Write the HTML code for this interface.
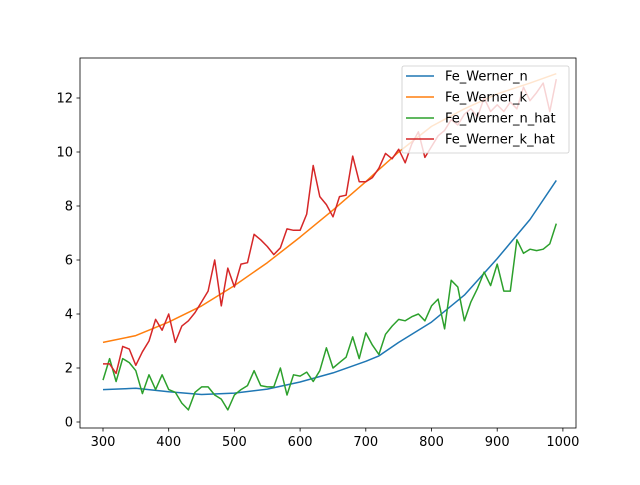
<!DOCTYPE html>
<html><head><meta charset="utf-8"><style>
body{margin:0;background:#fff}
svg{font-family:"DejaVu Sans","Liberation Sans",sans-serif}
</style></head><body>
<svg id="chart" width="640" height="480">
<rect width="640" height="480" fill="#fff"/>
<g id="marks"></g>
<rect x="80" y="58" width="496" height="370" fill="none" stroke="#000" stroke-width="0.8"/>
<g id="axes"></g>
<g id="legend"></g>
</svg>
<script>
const xSmooth=[300,350,400,450,500,550,600,650,700,720,750,800,850,900,950,990];
const nVals=[1.2,1.25,1.12,1.02,1.07,1.22,1.48,1.82,2.25,2.45,2.95,3.7,4.7,6.05,7.5,8.95];
const kVals=[2.95,3.2,3.7,4.3,5.05,5.9,6.85,7.85,8.9,9.35,10.0,10.95,11.6,12.15,12.55,12.9];
const xHat=[];for(let v=300;v<=990;v+=10)xHat.push(v);
const nHat=[1.55,2.35,1.5,2.35,2.2,1.9,1.05,1.75,1.2,1.75,1.2,1.1,0.7,0.45,1.1,1.3,1.3,1.0,0.85,0.45,1.0,1.2,1.35,1.9,1.35,1.3,1.3,2.0,1.0,1.75,1.7,1.85,1.5,1.9,2.75,2.0,2.2,2.4,3.15,2.35,3.3,2.85,2.5,3.25,3.55,3.8,3.75,3.9,4.0,3.75,4.3,4.55,3.45,5.25,5.0,3.75,4.45,4.95,5.55,5.05,5.85,4.85,4.85,6.75,6.25,6.4,6.35,6.4,6.6,7.35];
const kHat=[2.15,2.15,1.8,2.8,2.7,2.1,2.6,3.0,3.8,3.4,4.0,2.95,3.55,3.75,4.05,4.45,4.85,6.0,4.3,5.7,5.0,5.85,5.9,6.95,6.75,6.5,6.2,6.45,7.15,7.1,7.1,7.7,9.5,8.35,8.05,7.6,8.35,8.4,9.85,8.9,8.9,9.05,9.4,9.95,9.75,10.1,9.6,10.3,10.75,9.8,10.2,10.6,10.8,11.2,11.0,11.4,11.6,11.3,12.0,11.5,11.75,11.5,11.85,11.6,12.4,11.9,12.2,12.55,11.5,12.7];
const xTicks=[300,400,500,600,700,800,900,1000];
const yTicks=[0,2,4,6,8,10,12];
const names=["Fe_Werner_n","Fe_Werner_k","Fe_Werner_n_hat","Fe_Werner_k_hat"];
const colors=["#1f77b4","#ff7f0e","#2ca02c","#d62728"];
const X=v=>103+(v-300)*0.657;
const Y=v=>422-v*27;
const NS="http://www.w3.org/2000/svg";
function mk(t,a,p){const e=document.createElementNS(NS,t);for(const k in a)e.setAttribute(k,a[k]);p.appendChild(e);return e;}
const marks=document.getElementById('marks');
const series=[[xSmooth,nVals],[xSmooth,kVals],[xHat,nHat],[xHat,kHat]];
series.forEach((s,i)=>{
 const d=s[0].map((x,j)=>(j?'L':'M')+X(x).toFixed(1)+' '+Y(s[1][j]).toFixed(1)).join('');
 const p=mk('path',{d:d,fill:'none',stroke:colors[i],'stroke-width':1.5,'stroke-linejoin':'round'},marks);
 
 
});
const ax=document.getElementById('axes');
xTicks.forEach(t=>{
 const g=mk('g',{},ax);
 
 
 mk('line',{x1:X(t),x2:X(t),y1:428,y2:431.5,stroke:'#000','stroke-width':0.8},g);
 const tx=mk('text',{x:X(t),y:446,'text-anchor':'middle','font-size':13,fill:'#000'},g);tx.textContent=t;
});
yTicks.forEach(t=>{
 const g=mk('g',{},ax);
 
 
 mk('line',{x1:76.5,x2:80,y1:Y(t),y2:Y(t),stroke:'#000','stroke-width':0.8},g);
 const tx=mk('text',{x:73,y:Y(t)+4.5,'text-anchor':'end','font-size':13,fill:'#000'},g);tx.textContent=t;
});
const lg=document.getElementById('legend');
mk('rect',{x:402,y:66,width:167,height:87,rx:2,fill:'#fff','fill-opacity':0.8,stroke:'#ccc','stroke-width':0.8},lg);
names.forEach((n,i)=>{
 const g=mk('g',{},lg);
 
 
 const y=76+i*21;
 mk('line',{x1:406,x2:434,y1:y,y2:y,stroke:colors[i],'stroke-width':1.5},g);
 const tx=mk('text',{x:445,y:y+4.5,'font-size':13,fill:'#000'},g);tx.textContent=n;
});
</script>
</body></html>
